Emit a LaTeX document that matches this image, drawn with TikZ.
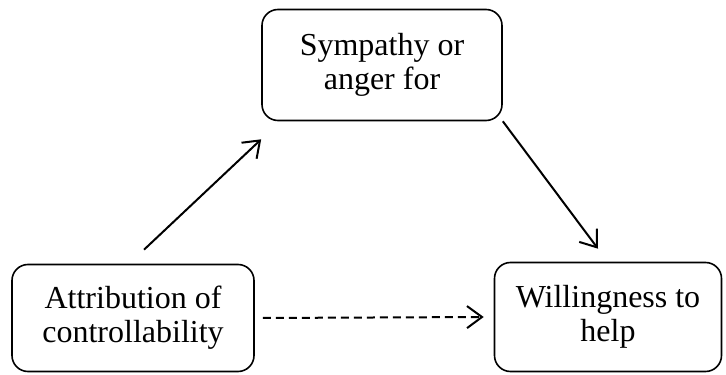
\documentclass[tikz,border=0pt]{standalone}
\usepackage{fontspec}
\setmainfont{Liberation Serif}
\usetikzlibrary{arrows.meta,calc}
\begin{document}
\begin{tikzpicture}[x=1pt,y=1pt,
  box/.style={draw,line width=1.6pt,rounded corners=16pt,align=center,
    inner sep=0pt,font=\fontsize{32}{34}\selectfont},
  conn/.style={line width=2pt,-{Straight Barb[length=15pt,width=22pt,line width=2pt]}},
  dashconn/.style={conn,dash pattern=on 8pt off 5pt}]
\useasboundingbox (0,0) rectangle (726,375);
\node[box,minimum width=242pt,minimum height=107pt] (a) at (133,57) {Attribution of\\controllability};
\node[box,minimum width=240pt,minimum height=111pt] (t) at (382,310) {Sympathy or\\anger for};
\node[box,minimum width=227pt,minimum height=109pt] (w) at (608,58) {Willingness to\\help};
\draw[conn] ($(a.north)+(11,14)$) -- ($(t.south west)+(0,-18)$);
\draw[conn] (t.south east) -- ($(w.north)+(-10,13)$);
\draw[dashconn] ($(a.east)+(8,0)$) -- ($(w.west)+(-10,0)$);
\end{tikzpicture}
\end{document}
